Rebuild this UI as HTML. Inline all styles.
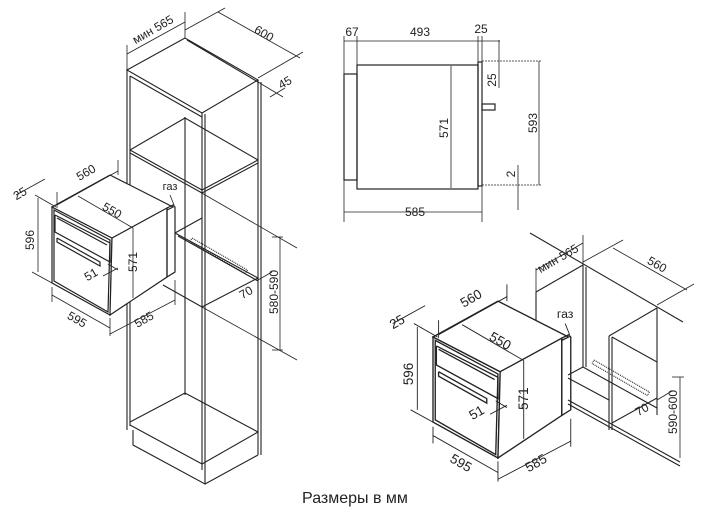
<!DOCTYPE html>
<html><head><meta charset="utf-8"><style>
html,body{margin:0;padding:0;background:#fff;}
svg{display:block;}
text{font-family:"Liberation Sans","DejaVu Sans",sans-serif;font-size:12px;fill:#222;}
</style></head><body>
<svg width="711" height="520" viewBox="0 0 711 520" xmlns="http://www.w3.org/2000/svg">
<defs>
<g id="oven" stroke="#222" fill="none" stroke-width="1.2">
  <polygon points="52,207 112,238 110,315 52,283" fill="#fff"/>
  <polygon points="54,210 110,240 108,312 54,281" />
  <polygon points="52,207 110,175 173,207 112,238" fill="#fff"/>
  <polygon points="112,238 167,208 167,277 110,315" fill="#fff"/>
  <polygon points="167,208 173,205 175,207 175,272 167,277"/>
  <polyline points="55,215 110,243 110,262 55,232 55,215"/>
  <polyline points="57,218 107,245"/>
  <polyline points="57,238 100,262 100,266 57,242 57,238"/>
  <g stroke-width="0.8">
    <line x1="57" y1="205" x2="118" y2="171"/>
    <line x1="57" y1="192" x2="57" y2="208"/>
    <line x1="118" y1="160" x2="118" y2="175"/>
    <line x1="16" y1="195" x2="45" y2="179"/>
    <line x1="35" y1="195" x2="56" y2="207"/>
    <line x1="38" y1="198" x2="38" y2="272"/>
    <line x1="32" y1="272" x2="52" y2="283"/>
    <line x1="78" y1="196" x2="133" y2="228"/>
    <line x1="133" y1="228" x2="133" y2="298"/>
    <line x1="103" y1="276" x2="118" y2="268"/>
    <line x1="108" y1="264" x2="118" y2="270"/>
    <line x1="52" y1="287" x2="52" y2="302"/>
    <line x1="52" y1="295" x2="110" y2="328"/>
    <line x1="110" y1="318" x2="110" y2="336"/>
    <line x1="110" y1="334" x2="175" y2="300"/>
    <line x1="175" y1="280" x2="175" y2="305"/>
    <line x1="170" y1="195" x2="174" y2="205"/>
  </g>
  <g stroke="none" fill="#222">
    <text x="88" y="176" transform="rotate(-30 88 176)" text-anchor="middle">560</text>
    <text x="22" y="197" transform="rotate(-30 22 197)" text-anchor="middle">25</text>
    <text x="34" y="240" transform="rotate(-90 34 240)" text-anchor="middle">596</text>
    <text x="110" y="214" transform="rotate(30 110 214)" text-anchor="middle">550</text>
    <text x="137" y="262" transform="rotate(-90 137 262)" text-anchor="middle">571</text>
    <text x="93" y="278" transform="rotate(-30 93 278)" text-anchor="middle">51</text>
    <text x="75" y="323" transform="rotate(30 75 323)" text-anchor="middle">595</text>
    <text x="146" y="323" transform="rotate(-30 146 323)" text-anchor="middle">585</text>
    <text x="170" y="190" text-anchor="middle" style="font-size:11px">газ</text>
  </g>
</g>
</defs>

<g stroke="#222" fill="none" stroke-width="1.1">
  <polygon points="127,70 185,38 258,80 202,113"/>
  <line x1="187" y1="40" x2="258" y2="82"/>
  <line x1="127" y1="70" x2="127" y2="430"/>
  <line x1="130" y1="76" x2="130" y2="426"/>
  <line x1="202" y1="113" x2="202" y2="470"/>
  <line x1="205" y1="114" x2="205" y2="470"/>
  <line x1="258" y1="80" x2="258" y2="455"/>
  <line x1="261" y1="82" x2="261" y2="455"/>
  <polyline points="130,76 202,117"/>
  <line x1="185" y1="117" x2="185" y2="395"/>
  <polyline points="130,150 202,190 258,160"/>
  <polyline points="130,153 202,193 258,163"/>
  <line x1="185" y1="118" x2="130" y2="150"/>
  <line x1="185" y1="118" x2="258" y2="160"/>
  <polyline points="175,233 202,218"/>
  <polyline points="175,233 258,278 202,307 163,285"/>
  <polyline points="178,236 258,281"/>
  <rect x="0" y="0" width="64" height="4" transform="translate(192,238) rotate(30)" stroke-dasharray="1 1"/>
  <polyline points="130,425 202,464 258,432"/>
  <polyline points="130,422 185,393 258,432"/>
  <polyline points="133,430 133,445 205,484 205,470"/>
  <polyline points="205,484 258,455"/>
  <g stroke-width="0.8">
    <line x1="127" y1="45" x2="127" y2="70"/>
    <line x1="185" y1="12" x2="185" y2="38"/>
    <line x1="127" y1="54" x2="185" y2="22"/>
    <line x1="218" y1="12" x2="300" y2="58"/>
    <line x1="185" y1="30" x2="225" y2="8"/>
    <line x1="258" y1="78" x2="303" y2="52"/>
    <line x1="258" y1="82" x2="283" y2="97"/>
    <line x1="270" y1="97" x2="285" y2="88"/>
    <line x1="200" y1="192" x2="297" y2="248"/>
    <line x1="202" y1="307" x2="297" y2="360"/>
    <line x1="280" y1="237" x2="280" y2="350"/>
    <line x1="272" y1="237" x2="283" y2="237"/>
    <line x1="272" y1="350" x2="283" y2="350"/>
    <line x1="258" y1="280" x2="272" y2="272"/>
  </g>
  <g stroke="none" fill="#222">
    <text x="155" y="33" transform="rotate(-30 155 33)" text-anchor="middle">мин 565</text>
    <text x="262" y="37" transform="rotate(30 262 37)" text-anchor="middle">600</text>
    <text x="287" y="86" transform="rotate(-30 287 86)" text-anchor="middle">45</text>
    <text x="248" y="296" transform="rotate(-30 248 296)" text-anchor="middle">70</text>
    <text x="278" y="292" transform="rotate(-90 278 292)" text-anchor="middle">580-590</text>
  </g>
</g>
<use href="#oven"/>

<g stroke="#222" fill="none" stroke-width="1.2">
  <rect x="357" y="65" width="121" height="124"/>
  <rect x="344" y="74" width="13" height="106"/>
  <rect x="478" y="62" width="4" height="124"/>
  <rect x="482" y="104" width="13" height="6"/>
  <g stroke-width="0.8">
    <line x1="344" y1="41" x2="500" y2="41"/>
    <line x1="344" y1="36" x2="344" y2="222"/>
    <line x1="357" y1="36" x2="357" y2="65"/>
    <line x1="478" y1="36" x2="478" y2="62"/>
    <line x1="482" y1="36" x2="482" y2="222"/>
    <line x1="344" y1="212" x2="482" y2="212"/>
    <line x1="451" y1="66" x2="451" y2="188"/>
    <line x1="482" y1="61" x2="541" y2="61" stroke-dasharray="2 1"/>
    <line x1="482" y1="185" x2="541" y2="185" stroke-dasharray="2 1"/>
    <line x1="539" y1="61" x2="539" y2="185"/>
    <line x1="499" y1="40" x2="499" y2="88"/>
    <line x1="518" y1="165" x2="518" y2="210"/>
  </g>
  <g stroke="none" fill="#222">
    <text x="352" y="36" text-anchor="middle">67</text>
    <text x="420" y="36" text-anchor="middle">493</text>
    <text x="481" y="33" text-anchor="middle">25</text>
    <text x="415" y="216" text-anchor="middle">585</text>
    <text x="448" y="128" transform="rotate(-90 448 128)" text-anchor="middle">571</text>
    <text x="537" y="123" transform="rotate(-90 537 123)" text-anchor="middle">593</text>
    <text x="496" y="80" transform="rotate(-90 496 80)" text-anchor="middle">25</text>
    <text x="515" y="174" transform="rotate(-90 515 174)" text-anchor="middle">2</text>
  </g>
</g>

<g stroke="#222" fill="none" stroke-width="1.1">
  <line x1="530" y1="233" x2="683" y2="322"/>
  <line x1="583" y1="265" x2="583" y2="367"/>
  <line x1="586" y1="267" x2="586" y2="367"/>
  <line x1="583" y1="265" x2="536" y2="292"/>
  <line x1="536" y1="292" x2="536" y2="340"/>
  <line x1="657" y1="308" x2="609" y2="336"/>
  <line x1="609" y1="336" x2="609" y2="430"/>
  <line x1="612" y1="337" x2="612" y2="430"/>
  <line x1="657" y1="308" x2="657" y2="415"/>
  <line x1="612" y1="337" x2="657" y2="362"/>
  <polyline points="583,367 568,375"/>
  <polyline points="583,367 657,408"/>
  <polyline points="568,378 609,400"/>
  <line x1="568" y1="400" x2="680" y2="462"/>
  <line x1="568" y1="404" x2="680" y2="466"/>
  <line x1="612" y1="423" x2="657" y2="398"/>
  <rect x="0" y="0" width="64" height="4" transform="translate(594,360) rotate(30)" stroke-dasharray="1 1"/>
  <g stroke-width="0.8">
    <line x1="536" y1="268" x2="536" y2="292"/>
    <line x1="536" y1="270" x2="583" y2="243"/>
    <line x1="583" y1="235" x2="583" y2="265"/>
    <line x1="613" y1="248" x2="687" y2="290"/>
    <line x1="583" y1="262" x2="623" y2="240"/>
    <line x1="657" y1="305" x2="694" y2="284"/>
    <line x1="680" y1="377" x2="680" y2="458"/>
    <line x1="672" y1="377" x2="684" y2="377"/>
    <line x1="657" y1="400" x2="672" y2="391"/>
  </g>
  <g stroke="none" fill="#222">
    <text x="560" y="262" transform="rotate(-30 560 262)" text-anchor="middle">мин 565</text>
    <text x="655" y="268" transform="rotate(30 655 268)" text-anchor="middle">560</text>
    <text x="644" y="413" transform="rotate(-30 644 413)" text-anchor="middle">70</text>
    <text x="677" y="412" transform="rotate(-90 677 412)" text-anchor="middle">590-600</text>
  </g>
</g>
<g transform="translate(433,337) scale(1.12) translate(-52,-207)"><use href="#oven"/></g>

<text x="355" y="503" text-anchor="middle" style="font-size:16px">Размеры в мм</text>
</svg>
</body></html>
